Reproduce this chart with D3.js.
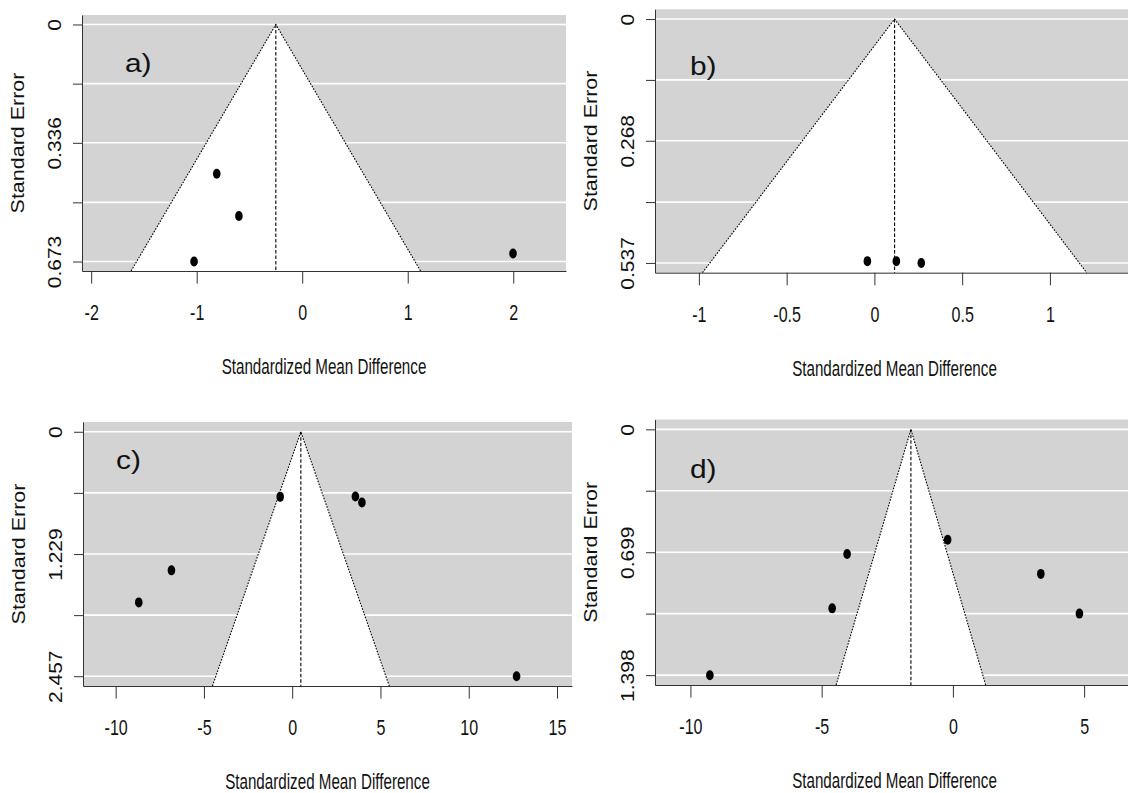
<!DOCTYPE html>
<html>
<head>
<meta charset="utf-8">
<script src="https://cdn.jsdelivr.net/npm/d3@7"></script>
<style>
  body { margin: 0; background: #fff; }
  .chart-box svg text { font-family: "Liberation Sans", Arial, sans-serif; fill: #111; }
</style>
</head>
<body>
<div class="chart-box"></div>
<script>
/* global d3 */

// a) study effects (SMD) and standard errors
const smdA = [-0.81, -0.60, -1.025, 1.998];
const seA = [0.424, 0.544, 0.673, 0.650];
const pooledA = -0.25;
const xTicksA = [-2, -1, 0, 1, 2];
const seLabelsA = ["0", "0.168", "0.336", "0.505", "0.673"];

// b)
const smdB = [-0.04, 0.125, 0.267];
const seB = [0.533, 0.533, 0.537];
const pooledB = 0.115;
const xTicksB = [-1, -0.5, 0, 0.5, 1];
const seLabelsB = ["0", "0.134", "0.268", "0.403", "0.537"];

// c)
const smdC = [-0.68, 3.58, 3.95, -6.84, -8.69, 12.71];
const seC = [0.654, 0.651, 0.711, 1.393, 1.715, 2.457];
const pooledC = 0.49;
const xTicksC = [-10, -5, 0, 5, 10, 15];
const seLabelsC = ["0", "0.614", "1.229", "1.843", "2.457"];

// d)
const smdD = [-4.03, -4.60, -0.20, 3.35, 4.82, -9.26];
const seD = [0.709, 1.018, 0.628, 0.822, 1.048, 1.398];
const pooledD = -1.60;
const xTicksD = [-10, -5, 0, 5];
const seLabelsD = ["0", "0.349", "0.699", "1.048", "1.398"];

const panelNames = ["a)", "b)", "c)", "d)"];
const xTitle = "Standardized Mean Difference";
const yTitle = "Standard Error";

// where each plot sits on the page
const layout = [
  {left: 82, top: 15, right: 566, bottom: 271, xMin: -2.087, xMax: 2.5, labX: 125, labY: 72},
  {left: 655, top: 9.3, right: 1134, bottom: 272.7, xMin: -1.25, xMax: 1.479, labX: 690, labY: 75},
  {left: 83, top: 422, right: 572, bottom: 686, xMin: -11.85, xMax: 15.85, labX: 116, labY: 469},
  {left: 655, top: 419.5, right: 1134, bottom: 685, xMin: -11.35, xMax: 6.9, labX: 690, labY: 478}
];

const panels = [
  {smd: smdA, se: seA, pooled: pooledA, xTicks: xTicksA, seLabels: seLabelsA},
  {smd: smdB, se: seB, pooled: pooledB, xTicks: xTicksB, seLabels: seLabelsB},
  {smd: smdC, se: seC, pooled: pooledC, xTicks: xTicksC, seLabels: seLabelsC},
  {smd: smdD, se: seD, pooled: pooledD, xTicks: xTicksD, seLabels: seLabelsD}
];

const width = 1128, height = 793;

const svg = d3.select(".chart-box").append("svg")
  .attr("width", width)
  .attr("height", height);

function drawPanel(p, lay, name) {
  const seTicks = p.seLabels.map(Number);
  const seMax = d3.max(seTicks);

  const x = d3.scaleLinear()
    .domain([lay.xMin, lay.xMax])
    .range([lay.left, lay.right]);

  // R style 4% padding on the y range
  const y = d3.scaleLinear()
    .domain([-0.04 * seMax, 1.04 * seMax])
    .range([lay.top, lay.bottom]);

  const seBot = y.domain()[1];
  const g = svg.append("g");

  g.append("rect")
    .attr("x", lay.left)
    .attr("y", lay.top)
    .attr("width", lay.right - lay.left)
    .attr("height", lay.bottom - lay.top)
    .attr("fill", "#d3d3d3");

  g.selectAll(".grid")
    .data(seTicks)
    .enter().append("line")
    .attr("class", "grid")
    .attr("x1", lay.left)
    .attr("x2", lay.right)
    .attr("y1", d => y(d))
    .attr("y2", d => y(d))
    .attr("stroke", "#fff")
    .attr("stroke-width", 1.6);

  // pseudo confidence region
  const lo = p.pooled - 1.96 * seBot, hi = p.pooled + 1.96 * seBot;
  const funnel = [[x(lo), y(seBot)], [x(p.pooled), y(0)], [x(hi), y(seBot)]];

  g.append("polygon")
    .attr("points", funnel.map(d => d.join(",")).join(" "))
    .attr("fill", "#fff");

  g.append("path")
    .attr("d", d3.line()(funnel))
    .attr("fill", "none")
    .attr("stroke", "#000")
    .attr("stroke-width", 1.1)
    .attr("stroke-dasharray", "1.6,1.4");

  g.append("line")
    .attr("x1", x(p.pooled))
    .attr("x2", x(p.pooled))
    .attr("y1", y(0))
    .attr("y2", y(seBot))
    .attr("stroke", "#000")
    .attr("stroke-width", 1.1)
    .attr("stroke-dasharray", "3.5,2");

  g.selectAll(".pt")
    .data(p.smd.map((d, i) => ({smd: d, se: p.se[i]})))
    .enter().append("ellipse")
    .attr("class", "pt")
    .attr("cx", d => x(d.smd))
    .attr("cy", d => y(d.se))
    .attr("rx", 3.8)
    .attr("ry", 5)
    .attr("fill", "#000");

  // axes
  const xAxis = g.append("g")
    .attr("transform", "translate(0," + lay.bottom + ")")
    .attr("color", "#333")
    .call(d3.axisBottom(x).tickValues(p.xTicks).tickSize(12.6).tickSizeOuter(0)
      .tickFormat(d => String(d)));

  xAxis.selectAll("text")
    .attr("y", 49)
    .attr("dy", null)
    .attr("font-size", 22)
    .attr("transform", "scale(0.73,1)");

  const yAxis = g.append("g")
    .attr("transform", "translate(" + lay.left + ",0)")
    .attr("color", "#333")
    .call(d3.axisLeft(y).tickValues(seTicks).tickSize(9).tickSizeOuter(0)
      .tickFormat((d, i) => i % 2 === 0 ? p.seLabels[i] : ""));

  yAxis.selectAll("text")
    .attr("x", 0)
    .attr("dy", null)
    .attr("text-anchor", "middle")
    .attr("font-size", 21)
    .attr("transform", "translate(-21,0) scale(0.85,1) rotate(-90)");

  g.append("text")
    .attr("transform", "translate(" + ((lay.left + lay.right) / 2) + "," + (lay.bottom + 103) + ") scale(0.69,1)")
    .attr("text-anchor", "middle")
    .attr("font-size", 22)
    .text(xTitle);

  g.append("text")
    .attr("transform", "translate(" + (lay.left - 58.5) + "," + ((lay.top + lay.bottom) / 2) + ") scale(0.85,1) rotate(-90)")
    .attr("text-anchor", "middle")
    .attr("font-size", 21.5)
    .attr("fill", "#222")
    .text(yTitle);

  g.append("text")
    .attr("transform", "translate(" + lay.labX + "," + lay.labY + ") scale(1.15,1)")
    .attr("font-size", 26)
    .attr("fill", "#000")
    .text(name);
}

panels.forEach((p, i) => drawPanel(p, layout[i], panelNames[i]));
</script>
</body>
</html>
